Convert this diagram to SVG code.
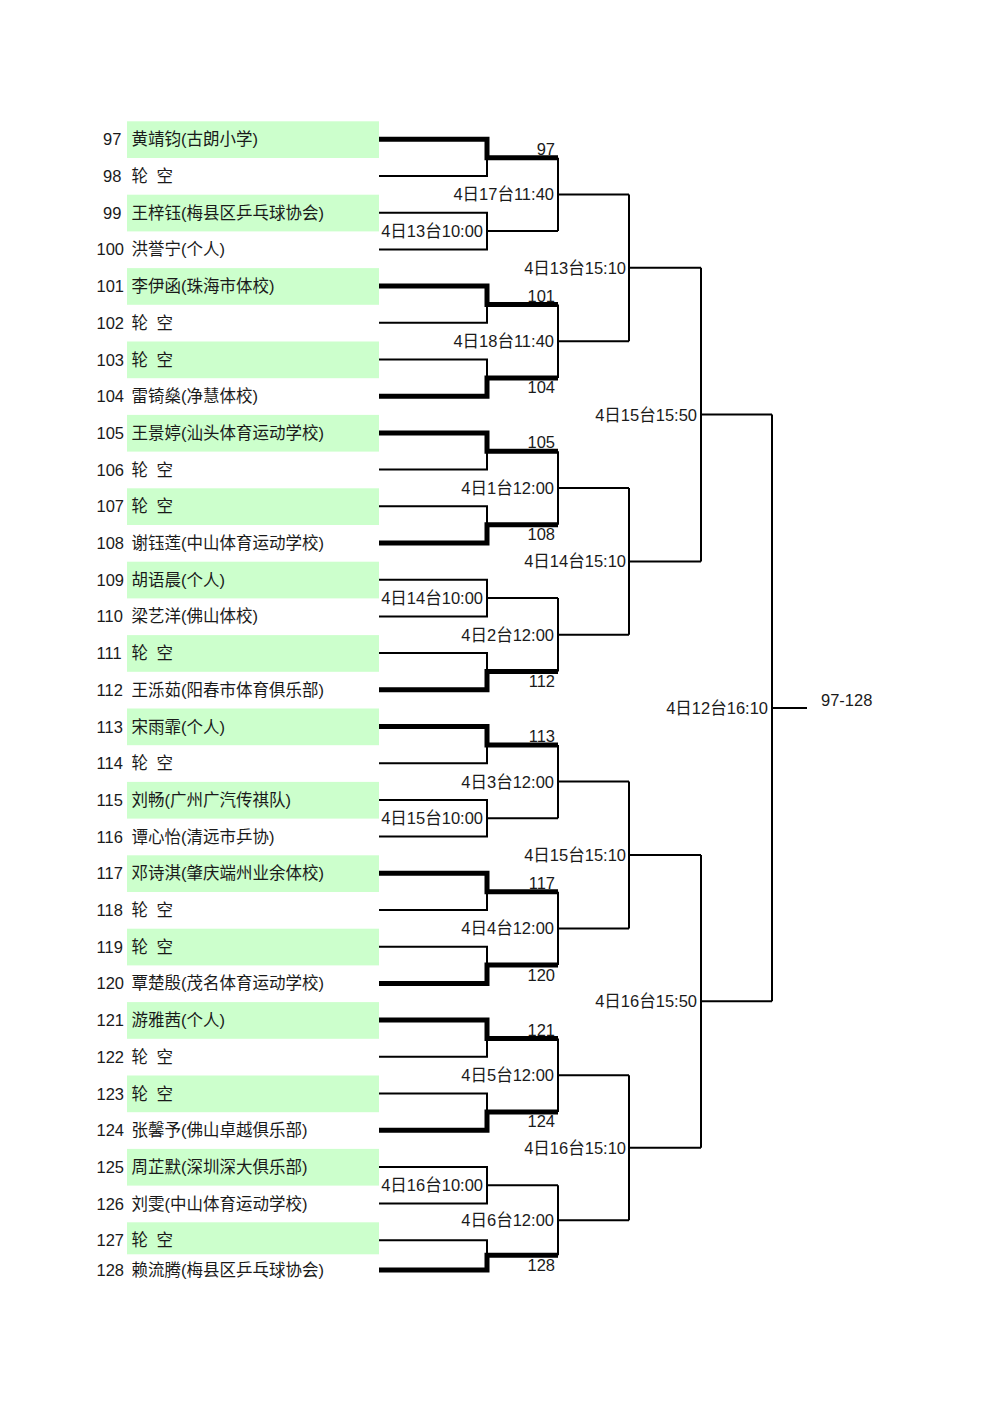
<svg xmlns="http://www.w3.org/2000/svg" width="1000" height="1414" viewBox="0 0 1000 1414">
<style>
.t{font-family:"Liberation Sans","Noto Sans CJK SC",sans-serif;font-size:16.5px;fill:#1a1a1a}
.e{text-anchor:end}
.box{fill:#ccffcc}
.thin{fill:none;stroke:#000;stroke-width:2}
.thick{fill:none;stroke:#000;stroke-width:5;stroke-linejoin:miter}
</style>
<rect width="1000" height="1414" fill="#fff"/>
<g id="entrants">
<g id="p97"><rect class="box" x="127" y="121.3" width="252" height="36.7"/><text class="t" x="103" y="145.3">97</text><text class="t" x="131.5" y="145.3">黄靖钧(古朗小学)</text></g>
<g id="p98"><text class="t" x="103" y="182">98</text><text class="t" x="131.5" y="182">轮 <tspan x="156.5">空</tspan></text></g>
<g id="p99"><rect class="box" x="127" y="194.7" width="252" height="36.7"/><text class="t" x="103" y="218.7">99</text><text class="t" x="131.5" y="218.7">王梓钰(梅县区乒乓球协会)</text></g>
<g id="p100"><text class="t" x="96.5" y="255.4">100</text><text class="t" x="131.5" y="255.4">洪誉宁(个人)</text></g>
<g id="p101"><rect class="box" x="127" y="268.1" width="252" height="36.7"/><text class="t" x="96.5" y="292.1">101</text><text class="t" x="131.5" y="292.1">李伊函(珠海市体校)</text></g>
<g id="p102"><text class="t" x="96.5" y="328.8">102</text><text class="t" x="131.5" y="328.8">轮 <tspan x="156.5">空</tspan></text></g>
<g id="p103"><rect class="box" x="127" y="341.5" width="252" height="36.7"/><text class="t" x="96.5" y="365.5">103</text><text class="t" x="131.5" y="365.5">轮 <tspan x="156.5">空</tspan></text></g>
<g id="p104"><text class="t" x="96.5" y="402.2">104</text><text class="t" x="131.5" y="402.2">雷锜燊(净慧体校)</text></g>
<g id="p105"><rect class="box" x="127" y="414.9" width="252" height="36.7"/><text class="t" x="96.5" y="438.9">105</text><text class="t" x="131.5" y="438.9">王景婷(汕头体育运动学校)</text></g>
<g id="p106"><text class="t" x="96.5" y="475.6">106</text><text class="t" x="131.5" y="475.6">轮 <tspan x="156.5">空</tspan></text></g>
<g id="p107"><rect class="box" x="127" y="488.3" width="252" height="36.7"/><text class="t" x="96.5" y="512.3">107</text><text class="t" x="131.5" y="512.3">轮 <tspan x="156.5">空</tspan></text></g>
<g id="p108"><text class="t" x="96.5" y="549">108</text><text class="t" x="131.5" y="549">谢钰莲(中山体育运动学校)</text></g>
<g id="p109"><rect class="box" x="127" y="561.7" width="252" height="36.7"/><text class="t" x="96.5" y="585.7">109</text><text class="t" x="131.5" y="585.7">胡语晨(个人)</text></g>
<g id="p110"><text class="t" x="96.5" y="622.4">110</text><text class="t" x="131.5" y="622.4">梁艺洋(佛山体校)</text></g>
<g id="p111"><rect class="box" x="127" y="635.1" width="252" height="36.7"/><text class="t" x="96.5" y="659.1">111</text><text class="t" x="131.5" y="659.1">轮 <tspan x="156.5">空</tspan></text></g>
<g id="p112"><text class="t" x="96.5" y="695.8">112</text><text class="t" x="131.5" y="695.8">王泺茹(阳春市体育俱乐部)</text></g>
<g id="p113"><rect class="box" x="127" y="708.5" width="252" height="36.7"/><text class="t" x="96.5" y="732.5">113</text><text class="t" x="131.5" y="732.5">宋雨霏(个人)</text></g>
<g id="p114"><text class="t" x="96.5" y="769.2">114</text><text class="t" x="131.5" y="769.2">轮 <tspan x="156.5">空</tspan></text></g>
<g id="p115"><rect class="box" x="127" y="781.9" width="252" height="36.7"/><text class="t" x="96.5" y="805.9">115</text><text class="t" x="131.5" y="805.9">刘畅(广州广汽传祺队)</text></g>
<g id="p116"><text class="t" x="96.5" y="842.6">116</text><text class="t" x="131.5" y="842.6">谭心怡(清远市乒协)</text></g>
<g id="p117"><rect class="box" x="127" y="855.3" width="252" height="36.7"/><text class="t" x="96.5" y="879.3">117</text><text class="t" x="131.5" y="879.3">邓诗淇(肇庆端州业余体校)</text></g>
<g id="p118"><text class="t" x="96.5" y="916">118</text><text class="t" x="131.5" y="916">轮 <tspan x="156.5">空</tspan></text></g>
<g id="p119"><rect class="box" x="127" y="928.7" width="252" height="36.7"/><text class="t" x="96.5" y="952.7">119</text><text class="t" x="131.5" y="952.7">轮 <tspan x="156.5">空</tspan></text></g>
<g id="p120"><text class="t" x="96.5" y="989.4">120</text><text class="t" x="131.5" y="989.4">覃楚殷(茂名体育运动学校)</text></g>
<g id="p121"><rect class="box" x="127" y="1002.1" width="252" height="36.7"/><text class="t" x="96.5" y="1026.1">121</text><text class="t" x="131.5" y="1026.1">游雅茜(个人)</text></g>
<g id="p122"><text class="t" x="96.5" y="1062.8">122</text><text class="t" x="131.5" y="1062.8">轮 <tspan x="156.5">空</tspan></text></g>
<g id="p123"><rect class="box" x="127" y="1075.5" width="252" height="36.7"/><text class="t" x="96.5" y="1099.5">123</text><text class="t" x="131.5" y="1099.5">轮 <tspan x="156.5">空</tspan></text></g>
<g id="p124"><text class="t" x="96.5" y="1136.2">124</text><text class="t" x="131.5" y="1136.2">张馨予(佛山卓越俱乐部)</text></g>
<g id="p125"><rect class="box" x="127" y="1148.9" width="252" height="36.7"/><text class="t" x="96.5" y="1172.9">125</text><text class="t" x="131.5" y="1172.9">周芷默(深圳深大俱乐部)</text></g>
<g id="p126"><text class="t" x="96.5" y="1209.6">126</text><text class="t" x="131.5" y="1209.6">刘雯(中山体育运动学校)</text></g>
<g id="p127"><rect class="box" x="127" y="1222.3" width="252" height="32"/><text class="t" x="96.5" y="1246.3">127</text><text class="t" x="131.5" y="1246.3">轮 <tspan x="156.5">空</tspan></text></g>
<g id="p128"><text class="t" x="96.5" y="1276">128</text><text class="t" x="131.5" y="1276">赖流腾(梅县区乒乓球协会)</text></g>
</g>
<g id="connectors">
<path class="thin" d="M379,139.3H487V176H379M487,157.7H558
M379,212.7H487V249.4H379M487,231.1H558
M379,286.1H487V322.8H379M487,304.5H558
M379,359.5H487V396.2H379M487,377.9H558
M379,432.9H487V469.6H379M487,451.3H558
M379,506.3H487V543H379M487,524.7H558
M379,579.7H487V616.4H379M487,598.1H558
M379,653.1H487V689.8H379M487,671.5H558
M379,726.5H487V763.2H379M487,744.9H558
M379,799.9H487V836.6H379M487,818.3H558
M379,873.3H487V910H379M487,891.7H558
M379,946.7H487V983.4H379M487,965.1H558
M379,1020.1H487V1056.8H379M487,1038.5H558
M379,1093.5H487V1130.2H379M487,1111.9H558
M379,1166.9H487V1203.6H379M487,1185.3H558
M379,1240.3H487V1270H379M487,1255.2H558"/>
<path class="thin" d="M558,157.7V231.1M558,194.4H629
M558,304.5V377.9M558,341.2H629
M558,451.3V524.7M558,488H629
M558,598.1V671.5M558,634.8H629
M558,744.9V818.3M558,781.6H629
M558,891.7V965.1M558,928.4H629
M558,1038.5V1111.9M558,1075.2H629
M558,1185.3V1255.2M558,1220.2H629"/>
<path class="thin" d="M629,194.4V341.2M629,267.8H701
M629,488V634.8M629,561.4H701
M629,781.6V928.4M629,855H701
M629,1075.2V1220.2M629,1147.7H701"/>
<path class="thin" d="M701,267.8V561.4M701,414.6H772
M701,855V1147.7M701,1001.3H772"/>
<path class="thin" d="M772,414.6V1001.3M772,708H807"/>
<path class="thick" d="M379,139.3H487V157.7H558
M379,286.1H487V304.5H558
M379,396.2H487V377.9H558
M379,432.9H487V451.3H558
M379,543H487V524.7H558
M379,689.8H487V671.5H558
M379,726.5H487V744.9H558
M379,873.3H487V891.7H558
M379,983.4H487V965.1H558
M379,1020.1H487V1038.5H558
M379,1130.2H487V1111.9H558
M379,1270H487V1255.2H558"/>
</g>
<g id="labels">
<text class="t e" x="555" y="154.7">97</text>
<text class="t e" x="555" y="301.5">101</text>
<text class="t e" x="555" y="393.4">104</text>
<text class="t e" x="555" y="448.3">105</text>
<text class="t e" x="555" y="540.2">108</text>
<text class="t e" x="555" y="687">112</text>
<text class="t e" x="555" y="741.9">113</text>
<text class="t e" x="555" y="888.7">117</text>
<text class="t e" x="555" y="980.6">120</text>
<text class="t e" x="555" y="1035.5">121</text>
<text class="t e" x="555" y="1127.4">124</text>
<text class="t e" x="555" y="1270.7">128</text>
<text class="t e" x="483" y="236.6">4日13台10:00</text>
<text class="t e" x="483" y="603.6">4日14台10:00</text>
<text class="t e" x="483" y="823.8">4日15台10:00</text>
<text class="t e" x="483" y="1190.8">4日16台10:00</text>
<text class="t e" x="554" y="200.4">4日17台11:40</text>
<text class="t e" x="554" y="347.2">4日18台11:40</text>
<text class="t e" x="554" y="494">4日1台12:00</text>
<text class="t e" x="554" y="640.8">4日2台12:00</text>
<text class="t e" x="554" y="787.6">4日3台12:00</text>
<text class="t e" x="554" y="934.4">4日4台12:00</text>
<text class="t e" x="554" y="1081.2">4日5台12:00</text>
<text class="t e" x="554" y="1226.2">4日6台12:00</text>
<text class="t e" x="626" y="273.8">4日13台15:10</text>
<text class="t e" x="626" y="567.4">4日14台15:10</text>
<text class="t e" x="626" y="861">4日15台15:10</text>
<text class="t e" x="626" y="1153.7">4日16台15:10</text>
<text class="t e" x="697" y="420.6">4日15台15:50</text>
<text class="t e" x="697" y="1007.3">4日16台15:50</text>
<text class="t e" x="768" y="714">4日12台16:10</text>
<text class="t" x="821" y="706">97-128</text>
</g>
</svg>
